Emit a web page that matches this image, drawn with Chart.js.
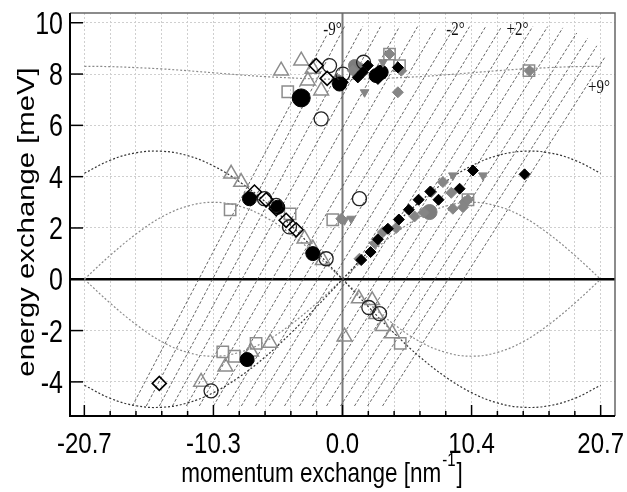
<!DOCTYPE html>
<html>
<head>
<meta charset="utf-8">
<script src="https://cdn.jsdelivr.net/npm/chart.js@4.4.0/dist/chart.umd.min.js"></script>
<style>
  html, body { margin: 0; padding: 0; background: #fff; }
  canvas { display: block; }
</style>
</head>
<body>
<canvas id="dispersion" width="627" height="492"></canvas>
<script>
// axis ticks
const xTickValues = [-20.7, -18.63, -16.56, -14.49, -12.42, -10.35, -8.28, -6.21, -4.14, -2.07, 0,
  2.07, 4.14, 6.21, 8.28, 10.35, 12.42, 14.49, 16.56, 18.63, 20.7];
const xTickLabels = ['-20.7', '', '', '', '', '-10.3', '', '', '', '', '0.0',
  '', '', '', '', '10.4', '', '', '', '', '20.7'];
const yTickValues = [-4, -2, 0, 2, 4, 6, 8, 10];

// dispersion curves
const curveX = [-20.7, -18.63, -16.56, -14.49, -12.42, -10.35, -8.28, -6.21, -4.14, -2.07, 0,
  2.07, 4.14, 6.21, 8.28, 10.35, 12.42, 14.49, 16.56, 18.63, 20.7];
const outerUpper = [4.13, 4.64, 4.93, 4.99, 4.82, 4.42, 3.81, 3.03, 2.10, 1.07, 0,
  1.07, 2.10, 3.03, 3.81, 4.42, 4.82, 4.99, 4.93, 4.64, 4.13];
const outerLower = [-4.13, -4.64, -4.93, -4.99, -4.82, -4.42, -3.81, -3.03, -2.10, -1.07, 0,
  -1.07, -2.10, -3.03, -3.81, -4.42, -4.82, -4.99, -4.93, -4.64, -4.13];
const innerUpper = [0, 0.93, 1.76, 2.43, 2.85, 3.0, 2.85, 2.43, 1.76, 0.93, 0,
  0.93, 1.76, 2.43, 2.85, 3.0, 2.85, 2.43, 1.76, 0.93, 0];
const innerLower = [0, -0.93, -1.76, -2.43, -2.85, -3.0, -2.85, -2.43, -1.76, -0.93, 0,
  -0.93, -1.76, -2.43, -2.85, -3.0, -2.85, -2.43, -1.76, -0.93, 0];
const flatBand = [8.30, 8.29, 8.25, 8.20, 8.13, 8.05, 7.97, 7.90, 7.85, 7.81, 7.80,
  7.81, 7.85, 7.90, 7.97, 8.05, 8.13, 8.20, 8.25, 8.29, 8.30];

// scan trajectories, -9 deg .. +9 deg
const scanBottomX = [-16.85, -15.73, -14.69, -13.64, -12.52, -11.48, -10.35, -9.23, -8.11, -6.98,
  -5.86, -4.65, -3.45, -2.41, -1.28, -0.16, 0.96, 2.01, 3.21];
const scanBottomY = [-4.94, -4.94, -4.94, -4.94, -4.94, -4.94, -4.94, -4.94, -4.94, -4.94,
  -4.94, -4.94, -4.94, -4.94, -4.94, -4.94, -4.94, -4.94, -4.94];
const scanTopX = [-1.28, 0.16, 1.61, 3.05, 4.57, 6.02, 7.54, 8.99, 10.19, 11.48,
  12.76, 13.96, 15.25, 16.45, 17.66, 18.78, 19.66, 20.39, 21.03];
const scanTopY = [9.5, 9.85, 9.85, 9.85, 9.85, 9.85, 9.85, 9.85, 9.85, 9.85,
  9.85, 9.85, 9.85, 9.85, 9.8, 9.6, 9.4, 9.1, 8.65];
const angleText = ['-9°', '-2°', '+2°', '+9°'];
const angleX = [-0.8, 9.07, 14.04, 20.56];
const angleY = [9.73, 9.73, 9.73, 7.47];

// measured points
const openTriX = [-4.92, -3.31, -2.78, -2.4, -1.71, -8.93, -8.13, -3.05, -2.38, -1.58,
  -11.34, -9.39, -7.33, -5.8, 0.16, 1.31, 2.38, 2.7, 3.24, 3.99];
const openTriY = [8.13, 8.52, 7.74, 8.2, 7.35, 4.11, 3.79, 1.58, 1.19, 0.74,
  -4.0, -3.41, -2.83, -2.48, -2.24, -0.75, -0.82, -1.36, -1.83, -2.11];
const openSqX = [-4.39, -9.01, -0.78, -9.6, -8.67, -6.93, 4.63, 3.77, 4.57, 14.95, 10.06, -4.2];
const openSqY = [7.31, 2.71, 2.32, -2.83, -3.0, -2.5, -2.5, 8.78, 8.33, 8.13, 3.1, 2.55];
const openCircX = [-1.04, -1.71, 1.69, 0.03, 1.36, -6.26, -5.32, -4.25, -1.31, -10.54, 2.11, 2.97];
const openCircY = [8.33, 6.25, 8.46, 8.0, 3.14, 3.14, 2.88, 2.04, 0.8, -4.35, -1.1, -1.34];
const blackCircX = [-3.31, -7.46, -5.19, -2.38, -7.65, -0.24, 2.7, 3.1];
const blackCircY = [7.07, 3.14, 2.81, 1.0, -3.13, 7.61, 7.94, 8.07];
const openDiaX = [-2.11, -1.23, -7.06, -6.12, -5.32, -4.52, -3.72, -14.69];
const openDiaY = [8.33, 7.83, 3.4, 3.1, 2.75, 2.3, 1.93, -4.06];
const blackDiaX = [2.25, 2.84, 3.64, 4.52, 5.32, 6.1, 7.04, 7.7, 9.39, 10.46, 14.6, 1.5,
  0.03, 1.23, 2.03, 2.84, 4.44, 1.63];
const blackDiaY = [1.06, 1.56, 1.97, 2.33, 2.71, 3.1, 3.42, 3.1, 3.53, 4.24, 4.09, 0.75,
  7.68, 7.87, 8.33, 7.81, 8.26, 8.07];
const grayDiaX = [1.36, 3.24, 5.78, 8.72, 8.85, 9.79, 7.12, 8.05, 9.66, -0.1, 0.83, 4.44,
  4.71, 3.77, 15.0, 10.06, 2.6, 4.3, 6.5];
const grayDiaY = [0.8, 1.84, 2.45, 3.37, 2.75, 3.01, 3.4, 3.79, 2.81, 2.36, 8.13, 7.29,
  8.13, 8.78, 8.13, 3.1, 1.4, 2.0, 2.6];
const grayDownX = [1.77, 3.24, 8.85, 11.26, 0.16, 0.7];
const grayDownY = [7.29, 8.46, 4.05, 4.05, 2.3, 2.36];
const grayCircX = [6.98, 0.96, 1.36, 2.84, -0.38];
const grayCircY = [2.62, 8.33, 8.2, 7.94, 7.74];

const FONT = '"Liberation Sans", Arial, sans-serif';
const STRETCH = 1.22; // the original figure is stretched vertically

function pts(xs, ys) {
  return xs.map((v, i) => ({ x: v, y: ys[i] }));
}

function curve(ys, from, to, color) {
  return {
    data: pts(curveX.slice(from, to), ys.slice(from, to)),
    showLine: true, pointRadius: 0, borderColor: color, borderWidth: 1.2,
    borderDash: [2, 2], tension: 0.4, order: 10
  };
}

function markers(xs, ys, style, radius, fill, stroke, width, rot) {
  return {
    data: pts(xs, ys), pointStyle: style, pointRadius: radius,
    pointBackgroundColor: fill, pointBorderColor: stroke, pointBorderWidth: width,
    pointRotation: rot || 0, showLine: false, order: 0
  };
}

const datasets = [
  markers(blackDiaX, blackDiaY, 'rectRot', 5.5, '#000', '#000', 1),
  markers(grayDiaX, grayDiaY, 'rectRot', 5.5, '#858585', '#858585', 1),
  markers(grayDownX, grayDownY, 'triangle', 5, '#858585', '#858585', 1, 180),
  markers(openDiaX, openDiaY, 'rectRot', 7, 'rgba(0,0,0,0)', '#000', 1.6),
  markers(openCircX, openCircY, 'circle', 7, 'rgba(0,0,0,0)', '#222', 1.3),
  markers(blackCircX, blackCircY, 'circle', [9, 7, 7, 7, 7, 7, 7, 7], '#000', '#000', 1),
  markers(grayCircX, grayCircY, 'circle', [7.5, 6, 6, 6, 6], '#7d7d7d', '#7d7d7d', 1),
  markers(openSqX, openSqY, 'rect', 8, 'rgba(0,0,0,0)', '#8c8c8c', 1.5),
  markers(openTriX, openTriY, 'triangle', 8.5, 'rgba(0,0,0,0)', '#8c8c8c', 1.5),
  curve(outerUpper, 0, 11, '#333'), curve(outerUpper, 10, 21, '#333'),
  curve(outerLower, 0, 11, '#333'), curve(outerLower, 10, 21, '#333'),
  curve(innerUpper, 0, 11, '#8a8a8a'), curve(innerUpper, 10, 21, '#8a8a8a'),
  curve(innerLower, 0, 11, '#8a8a8a'), curve(innerLower, 10, 21, '#8a8a8a'),
  curve(flatBand, 0, 21, '#8a8a8a')
];

scanBottomX.forEach((bx, i) => {
  datasets.push({
    data: [{ x: bx, y: scanBottomY[i] }, { x: scanTopX[i], y: scanTopY[i] }],
    showLine: true, pointRadius: 0, borderColor: '#555', borderWidth: 0.9,
    borderDash: [3, 2], order: 20
  });
});

// text drawn squeezed like the source figure
function stretchedText(ctx, text, x, y, size, align) {
  ctx.save();
  ctx.translate(x, y);
  ctx.scale(1, STRETCH);
  ctx.font = size + 'px ' + FONT;
  ctx.textAlign = align;
  ctx.textBaseline = 'alphabetic';
  ctx.fillText(text, 0, 0);
  ctx.restore();
}

const decor = {
  id: 'decor',
  beforeDatasetsDraw(chart) {
    const { ctx, chartArea: a, scales: { x, y } } = chart;
    const x0 = x.getPixelForValue(0);
    const y0 = y.getPixelForValue(0);
    ctx.save();
    ctx.strokeStyle = '#7a7a7a';
    ctx.lineWidth = 2;
    ctx.beginPath(); ctx.moveTo(x0, a.top); ctx.lineTo(x0, a.bottom); ctx.stroke();
    ctx.strokeStyle = '#000';
    ctx.lineWidth = 2.5;
    ctx.beginPath(); ctx.moveTo(a.left, y0); ctx.lineTo(a.right, y0); ctx.stroke();
    ctx.restore();
  },
  afterDraw(chart) {
    const { ctx, chartArea: a, scales: { x, y } } = chart;
    ctx.save();
    // frame
    ctx.strokeStyle = '#666';
    ctx.lineWidth = 1.5;
    ctx.beginPath();
    ctx.moveTo(a.left, a.top); ctx.lineTo(a.right, a.top); ctx.lineTo(a.right, a.bottom);
    ctx.stroke();
    ctx.strokeStyle = '#000';
    ctx.lineWidth = 2;
    ctx.beginPath();
    ctx.moveTo(a.left, a.top); ctx.lineTo(a.left, a.bottom); ctx.lineTo(a.right, a.bottom);
    ctx.stroke();
    // inward ticks
    ctx.lineWidth = 1.5;
    xTickValues.forEach((v, i) => {
      const px = x.getPixelForValue(v);
      const len = xTickLabels[i] ? 11 : 5;
      ctx.beginPath(); ctx.moveTo(px, a.bottom); ctx.lineTo(px, a.bottom - len); ctx.stroke();
    });
    yTickValues.forEach(v => {
      const py = y.getPixelForValue(v);
      ctx.beginPath(); ctx.moveTo(a.left, py); ctx.lineTo(a.left + 13, py); ctx.stroke();
    });
    // tick labels
    ctx.fillStyle = '#000';
    xTickValues.forEach((v, i) => {
      if (xTickLabels[i]) stretchedText(ctx, xTickLabels[i], x.getPixelForValue(v), a.bottom + 37, 24, 'center');
    });
    yTickValues.forEach(v => {
      stretchedText(ctx, String(v), a.left - 7, y.getPixelForValue(v) + 11, 25, 'right');
    });
    // angle labels
    ctx.fillStyle = '#111';
    angleText.forEach((t, i) => {
      ctx.save();
      ctx.translate(x.getPixelForValue(angleX[i]), y.getPixelForValue(angleY[i]) + 5);
      ctx.scale(1, STRETCH);
      ctx.font = '15px "Liberation Serif", "Times New Roman", serif';
      ctx.textAlign = 'center';
      ctx.fillText(t, 0, 0);
      ctx.restore();
    });
    // axis titles
    ctx.fillStyle = '#000';
    ctx.save();
    ctx.translate(34, 222);
    ctx.rotate(-Math.PI / 2);
    ctx.scale(STRETCH, 1);
    ctx.font = '24px ' + FONT;
    ctx.textAlign = 'center';
    ctx.textBaseline = 'alphabetic';
    ctx.fillText('energy exchange [meV]', 0, 0);
    ctx.restore();
    const main = 'momentum exchange [nm';
    ctx.font = '22.5px ' + FONT;
    const wMain = ctx.measureText(main).width;
    const wEnd = ctx.measureText(']').width;
    ctx.font = '15px ' + FONT;
    const wSup = ctx.measureText('-1').width + 2;
    let sx = 322 - (wMain + wSup + wEnd) / 2;
    stretchedText(ctx, main, sx, 482, 22.5, 'left');
    sx += wMain;
    stretchedText(ctx, '-1', sx + 1, 466, 15, 'left');
    sx += wSup;
    stretchedText(ctx, ']', sx, 482, 22.5, 'left');
    ctx.restore();
  }
};

new Chart(document.getElementById('dispersion'), {
  type: 'scatter',
  data: { datasets },
  options: {
    responsive: false,
    devicePixelRatio: 1,
    animation: false,
    layout: { padding: { top: 13, right: 12, left: 0, bottom: 0 } },
    plugins: { legend: { display: false }, tooltip: { enabled: false } },
    scales: {
      x: {
        type: 'linear', min: -21.85, max: 21.85,
        afterBuildTicks: s => { s.ticks = xTickValues.map(v => ({ value: v })); },
        afterFit: s => { s.height = 76; },
        ticks: { display: false },
        grid: { color: '#cfcfcf', lineWidth: 1, drawTicks: false },
        border: { display: false, dash: [2, 2] }
      },
      y: {
        type: 'linear', min: -5.33, max: 10.38,
        afterBuildTicks: s => { s.ticks = yTickValues.map(v => ({ value: v })); },
        afterFit: s => { s.width = 70; },
        ticks: { display: false },
        grid: { color: '#cfcfcf', lineWidth: 1, drawTicks: false },
        border: { display: false, dash: [2, 2] }
      }
    }
  },
  plugins: [decor]
});
</script>
</body>
</html>
